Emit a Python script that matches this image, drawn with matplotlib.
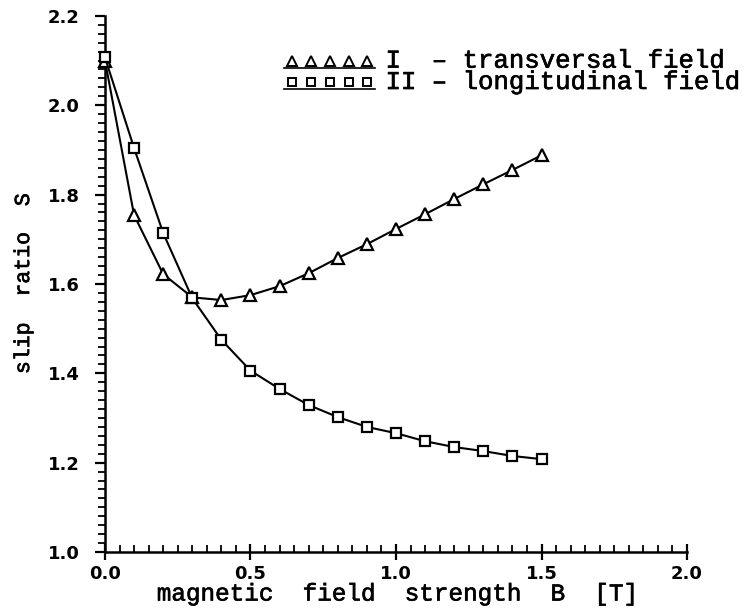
import matplotlib.pyplot as plt
import matplotlib.patheffects as pe
from matplotlib.ticker import MultipleLocator
import numpy as np

# field strength B [T]
b_field = [0.0, 0.1, 0.2, 0.3, 0.4, 0.5, 0.6, 0.7, 0.8, 0.9, 1.0, 1.1, 1.2, 1.3, 1.4, 1.5]
# slip ratio, I - transversal field
s_transversal = [2.10, 1.754, 1.622, 1.570, 1.564, 1.575, 1.595, 1.624, 1.658, 1.689,
                 1.723, 1.756, 1.790, 1.823, 1.855, 1.888]
# slip ratio, II - longitudinal field
s_longitudinal = [2.107, 1.904, 1.714, 1.568, 1.475, 1.406, 1.365, 1.329, 1.302, 1.280,
                  1.266, 1.248, 1.235, 1.226, 1.215, 1.208]

x_ticks = [0.0, 0.5, 1.0, 1.5, 2.0]
y_ticks = [1.0, 1.2, 1.4, 1.6, 1.8, 2.0, 2.2]
legend_lines = ['I  \u2013 transversal field', 'II \u2013 longitudinal field']

mono = 'Liberation Mono'
heavy = [pe.withStroke(linewidth=0.45, foreground='black')]
plt.rcParams['font.family'] = 'DejaVu Sans'
plt.rcParams['font.weight'] = 'bold'
plt.rcParams['xtick.labelsize'] = 13
plt.rcParams['ytick.labelsize'] = 13

fig = plt.figure(figsize=(7.52, 6.10), dpi=100)
ax = fig.add_axes([0.1396, 0.095, 0.774, 0.879])

ax.plot(b_field, s_transversal, color='black', lw=1.5, marker='^', ms=8,
        mfc='white', mec='black', mew=1.6, clip_on=False, zorder=3)
ax.plot(b_field, s_longitudinal, color='black', lw=1.5, marker='s', ms=7.5,
        mfc='white', mec='black', mew=1.6, clip_on=False, zorder=3)

ax.set_xlim(0, 2.0)
ax.set_ylim(1.0, 2.2)
ax.set_xticks(x_ticks)
ax.set_yticks(y_ticks)
ax.set_xticklabels([f'{v:.1f}' for v in x_ticks])
ax.set_yticklabels([f'{v:.1f}' for v in y_ticks])
ax.xaxis.set_minor_locator(MultipleLocator(0.05))
ax.yaxis.set_minor_locator(MultipleLocator(0.02))

for s in ['top', 'right']:
    ax.spines[s].set_visible(False)
for s in ['left', 'bottom']:
    ax.spines[s].set_linewidth(1.8)

ax.tick_params(axis='x', which='major', direction='inout', length=12, width=1.6, pad=3)
ax.tick_params(axis='x', which='minor', direction='in', length=5, width=1.3)
ax.tick_params(axis='y', which='major', direction='out', length=7, width=1.6, pad=11)
ax.tick_params(axis='y', which='minor', direction='out', length=5, width=1.3)

xl = ax.set_xlabel('magnetic  field  strength  B  [T]', family=mono, fontweight='normal',
                   fontsize=17.5, labelpad=0)
yl = ax.set_ylabel('slip  ratio  S', family=mono, fontweight='normal', fontsize=15.5, labelpad=10)
xl.set_path_effects(heavy)
yl.set_path_effects(heavy)

# hand-drawn legend
leg_marks = [('^', 0.916), ('s', 0.877)]
for mk, yy in leg_marks:
    xs = np.linspace(0.321, 0.451, 5)
    ax.plot(xs, [yy] * 5, ls='none', marker=mk, ms=6.5 if mk == '^' else 6,
            mfc='white', mec='black', mew=1.4, transform=ax.transAxes, clip_on=False)
    ax.plot([0.307, 0.464], [yy - 0.014, yy - 0.014], color='black', lw=1.2,
            transform=ax.transAxes, clip_on=False)
lt = ax.text(0.482, 0.8965, '\n'.join(legend_lines), transform=ax.transAxes, family=mono,
             fontweight='normal', fontsize=18.5, va='center', ha='left', linespacing=0.86)
lt.set_path_effects(heavy)

fig.savefig('out.png', dpi=100)
